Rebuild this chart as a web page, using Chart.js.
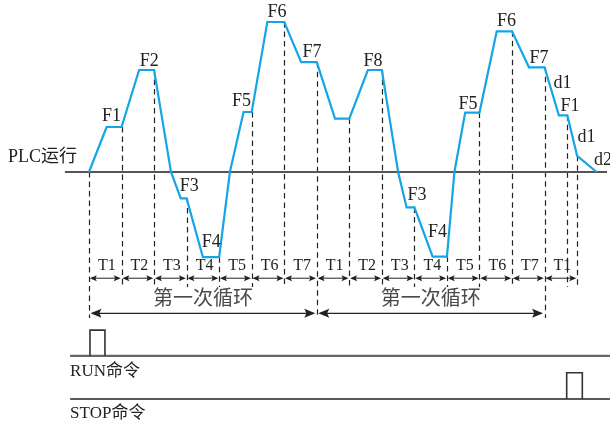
<!DOCTYPE html>
<html><head><meta charset="utf-8">
<script src="https://cdn.jsdelivr.net/npm/chart.js@4"></script>
<style>html,body{margin:0;padding:0;background:#fff}#c{display:block}</style>
</head><body>
<canvas id="c" width="610" height="427"></canvas>
<script>
// Output frequency of the PLC programme run: time in step periods (T), frequency in Hz
const curveTime = [0, 0.54, 1.0, 1.54, 2.0, 2.52, 2.82, 3.0, 3.5, 4.0, 4.33, 4.75, 5.0, 5.48, 6.0, 6.52, 7.0,
                   7.56, 8.0, 8.57, 9.0, 9.5, 9.76, 10.0, 10.56, 11.0, 11.23, 11.56, 12.0, 12.53, 13.0, 13.52, 14.0,
                   14.44, 14.7, 15.0, 15.6];
const curveFreq = [0, 15, 15, 34, 34, 0, -8.8, -8.8, -28.4, -28.4, 0, 20, 20, 50, 50, 36.6, 36.6,
                   17.8, 17.8, 34, 34, 0, -11.8, -11.8, -28.2, -28.2, 0, 19.8, 19.8, 46.9, 46.9, 34.9, 34.9,
                   18.9, 18.9, 5.4, 0];
// step boundaries and labels
const stepBounds = [0,1,2,3,4,5,6,7,8,9,10,11,12,13,14,15];
const extraMarks = [14.7];
const stepLabels = ['T1','T2','T3','T4','T5','T6','T7','T1','T2','T3','T4','T5','T6','T7','T1'];
const cycleBounds = [0, 7, 14];
const cycleLabels = ['第一次循环', '第一次循环'];
const pointLabels = ['F1','F2','F3','F4','F5','F6','F7','F8','F3','F4','F5','F6','F7','d1','F1','d1','d2'];
// command signals (0 = low, 1 = pulse)
const laneTime = [-0.58, 16.01];
const laneLevel = [0, 0];
const runPulseTime = [0.03, 0.03, 0.49, 0.49];
const runPulseLevel = [0, 1, 1, 0];
const stopPulseTime = [14.68, 14.68, 15.16, 15.16];
const stopPulseLevel = [0, 1, 1, 0];
const baseTime = [-0.74, 15.92];
const baseFreq = [0, 0];

const zip = (xs, ys) => xs.map((x, i) => ({x, y: ys[i]}));
function freqAt(t) {
  for (let i = 0; i < curveTime.length - 1; i++) {
    if (t >= curveTime[i] && t <= curveTime[i+1]) {
      const a = curveTime[i], b = curveTime[i+1];
      return curveFreq[i] + (curveFreq[i+1]-curveFreq[i]) * (t-a)/(b-a || 1);
    }
  }
  return 0;
}

// label layout (data units)
const pointLabelPos = [[0.69,18.5],[1.85,37],[3.08,-4.7],[3.76,-23.5],[4.69,23.5],[5.78,53.2],[6.85,39.8],
  [8.73,37],[10.08,-7.8],[10.71,-20.2],[11.65,22.7],[12.83,50.2],[13.83,37.8],[14.55,29.5],[14.78,21.8],[15.29,11.5],[15.52,4]];

const serif = "'Liberation Serif','Noto Sans CJK SC',serif";
const cjk = "'Noto Sans CJK SC',sans-serif";

function head(ctx, tipX, y, dir, len, half) {
  ctx.beginPath();
  ctx.moveTo(tipX, y);
  ctx.lineTo(tipX - dir*len, y - half);
  ctx.lineTo(tipX - dir*len*0.8, y);
  ctx.lineTo(tipX - dir*len, y + half);
  ctx.closePath();
  ctx.fill();
}
function dArrow(ctx, x1, x2, y, len, half, gap) {
  ctx.beginPath();
  ctx.moveTo(x1 + gap + 2, y); ctx.lineTo(x2 - gap - 2, y); ctx.stroke();
  head(ctx, x1 + gap, y, -1, len, half);
  head(ctx, x2 - gap, y, 1, len, half);
}

const deco = {
  id: 'deco',
  beforeDatasetsDraw(chart) {
    const {ctx, scales: {x, y}} = chart;
    ctx.save();
    ctx.strokeStyle = '#222';
    ctx.lineWidth = 1.2;
    ctx.setLineDash([5.5, 4]);
    stepBounds.concat(extraMarks).forEach(b => {
      const bottom = cycleBounds.includes(b) ? -48.7 : -38.3;
      const px = Math.round(x.getPixelForValue(b)) + 0.5;
      ctx.beginPath();
      ctx.moveTo(px, y.getPixelForValue(freqAt(b)));
      ctx.lineTo(px, y.getPixelForValue(bottom));
      ctx.stroke();
    });
    ctx.restore();
  },
  afterDatasetsDraw(chart) {
    const {ctx, scales: {x, y}} = chart;
    ctx.save();
    ctx.fillStyle = '#222';
    ctx.strokeStyle = '#222';
    ctx.lineWidth = 1;
    // step arrows + labels
    const ay = y.getPixelForValue(-35.4);
    for (let i = 0; i < stepBounds.length - 1; i++) {
      const x1 = x.getPixelForValue(stepBounds[i]), x2 = x.getPixelForValue(stepBounds[i+1]);
      dArrow(ctx, x1, x2, ay, 7, 3, 0.8);
    }
    ctx.font = '16px ' + serif;
    ctx.textAlign = 'center'; ctx.textBaseline = 'middle';
    stepLabels.forEach((s, i) => {
      const c = (stepBounds[i] + stepBounds[i+1]) / 2 + 0.05;
      ctx.fillText(s, x.getPixelForValue(c), y.getPixelForValue(-31.3));
    });
    // cycle arrows
    const cy = y.getPixelForValue(-47.1);
    ctx.lineWidth = 1.2;
    for (let i = 0; i < cycleBounds.length - 1; i++) {
      const x1 = x.getPixelForValue(cycleBounds[i]), x2 = x.getPixelForValue(cycleBounds[i+1]);
      dArrow(ctx, x1, x2, cy, 11, 4.5, 1.5);
      ctx.save();
      ctx.fillStyle = '#4a4a4a';
      ctx.font = '20px ' + cjk;
      ctx.fillText(cycleLabels[i], (x1 + x2) / 2, y.getPixelForValue(-41.7));
      ctx.restore();
    }
    // point labels
    ctx.font = '18px ' + serif;
    pointLabels.forEach((s, i) => {
      const [t, v] = pointLabelPos[i];
      if (s === 'd2') { ctx.textAlign = 'left'; } else { ctx.textAlign = 'center'; }
      ctx.fillText(s, x.getPixelForValue(t), y.getPixelForValue(v));
    });
    // lane titles
    ctx.textAlign = 'center';
    ctx.fillText('PLC运行', x.getPixelForValue(-1.43), y.getPixelForValue(4.8));
    ctx.textAlign = 'left';
    ctx.font = '17px ' + serif;
    ctx.fillText('RUN命令', x.getPixelForValue(-0.58), chart.scales.yRun.getPixelForValue(-0.6));
    ctx.fillText('STOP命令', x.getPixelForValue(-0.58), chart.scales.yStop.getPixelForValue(-0.55));
    ctx.restore();
  }
};

new Chart(document.getElementById('c'), {
  type: 'scatter',
  data: {
    datasets: [
      {data: zip(curveTime, curveFreq), showLine: true, borderColor: '#14a5e6', borderWidth: 2.2,
       pointRadius: 0, tension: 0, yAxisID: 'y', order: 0},
      {data: zip(baseTime, baseFreq), showLine: true, borderColor: '#555', borderWidth: 2,
       pointRadius: 0, yAxisID: 'y', order: 1},
      {data: zip(laneTime, laneLevel), showLine: true, borderColor: '#666', borderWidth: 2.2,
       pointRadius: 0, yAxisID: 'yRun', order: 2},
      {data: zip(runPulseTime, runPulseLevel), showLine: true, borderColor: '#333', borderWidth: 1.6,
       pointRadius: 0, yAxisID: 'yRun', order: 0},
      {data: zip(laneTime, laneLevel), showLine: true, borderColor: '#222', borderWidth: 1.5,
       pointRadius: 0, yAxisID: 'yStop', order: 2},
      {data: zip(stopPulseTime, stopPulseLevel), showLine: true, borderColor: '#333', borderWidth: 1.6,
       pointRadius: 0, yAxisID: 'yStop', order: 0}
    ]
  },
  options: {
    responsive: false, animation: false, devicePixelRatio: 1,
    layout: {padding: 0},
    plugins: {legend: {display: false}, tooltip: {enabled: false}},
    scales: {
      x: {type: 'linear', min: -2.735, max: 16.011, display: false},
      y: {type: 'linear', min: -85, max: 57.333, display: false},
      yRun: {type: 'linear', min: -2.77, max: 13.84, display: false},
      yStop: {type: 'linear', min: -1.065, max: 15.17, display: false}
    }
  },
  plugins: [deco]
});
</script>
</body></html>
